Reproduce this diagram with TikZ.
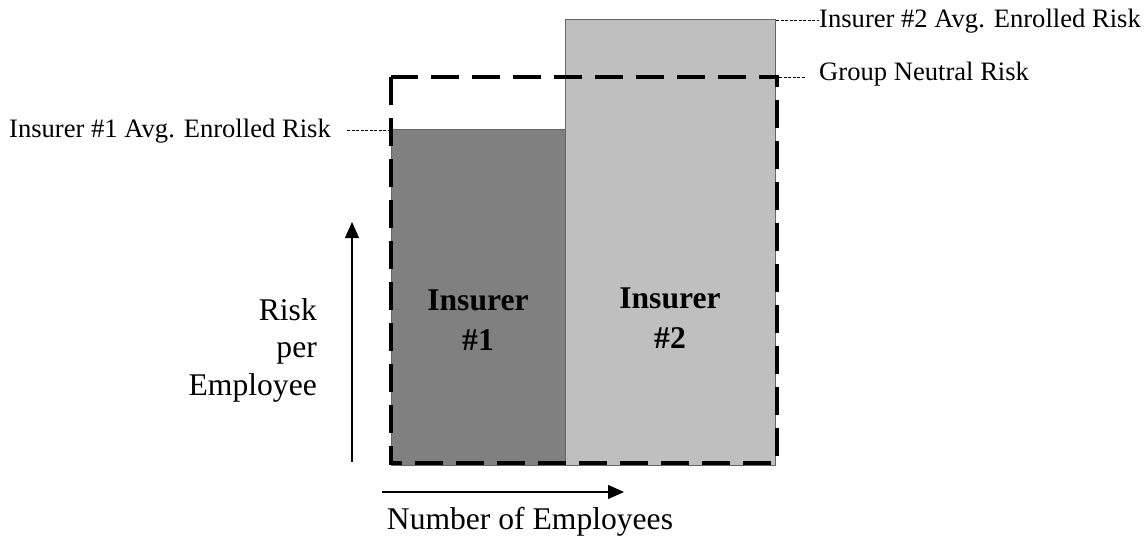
\documentclass[tikz,border=0pt]{standalone}
\usepackage{fontspec}
\setmainfont{Liberation Serif}
\usetikzlibrary{arrows.meta}
\begin{document}
\begin{tikzpicture}[x=1pt,y=-1pt,
  lbl/.style={inner sep=0pt, font=\fontsize{26.6}{30}\selectfont},
  axlbl/.style={inner sep=0pt, font=\fontsize{31.6}{37.5}\selectfont},
  barlbl/.style={inner sep=0pt, align=center, font=\bfseries\fontsize{31.6}{40}\selectfont},
  leader/.style={draw=black, line width=0.8pt, dash pattern=on 3pt off 1.5pt},
  bar/.style={draw=black!60, line width=1pt},
  neutral/.style={draw=black, line width=4pt, dash pattern=on 28pt off 13pt},
  axis/.style={draw=black, line width=1.2pt, -{Triangle[length=16pt,width=14pt]}}]
\useasboundingbox (0,0) rectangle (1147,540);
% bars
\coordinate (b1tl) at (391,130);
\coordinate (b1br) at (565,465);
\coordinate (b2tl) at (565,20);
\coordinate (b2br) at (775,465);
\fill[black!50] (b1tl) rectangle (b1br);
\fill[black!25] (b2tl) rectangle (b2br);
\draw[bar] (b1tl) rectangle (b1br);
\draw[bar] (b2tl) rectangle (b2br);
% neutral dashed box
\coordinate (ntl) at (391,77);
\coordinate (nbr) at (777,463);
\draw[neutral] (ntl) rectangle (nbr);
% bar labels
\node[barlbl] (i1) at (478,320) {Insurer\\\#1};
\node[barlbl] (i2) at (670,318) {Insurer\\\#2};
% leader labels
\node[lbl, anchor=east] (l1) at (331,131) {Insurer \#1 Avg. Enrolled Risk};
\node[lbl, anchor=west] (l2) at (819,21) {Insurer \#2 Avg. Enrolled Risk};
\node[lbl, anchor=west] (l3) at (819,74) {Group Neutral Risk};
\coordinate (c1s) at (347,130);
\coordinate (c1) at (388,130);
\coordinate (c2) at (776,20);
\coordinate (c3) at (779,77);
\coordinate (c3e) at (805,77);
\draw[leader] (c1s) -- (c1);
\draw[leader] (c2) -- (l2.west |- c2);
\draw[leader] (c3) -- (c3e);
% axes
\coordinate (ya) at (352,462);
\coordinate (yb) at (352,222);
\coordinate (xa) at (382,492);
\coordinate (xb) at (624,492);
\draw[axis] (ya) -- (yb);
\draw[axis] (xa) -- (xb);
\node[axlbl, align=right, anchor=east] (yl) at (317,350) {Risk\\per\\Employee};
\node[axlbl] (xl) at (530,522) {Number of Employees};
\end{tikzpicture}
\end{document}
